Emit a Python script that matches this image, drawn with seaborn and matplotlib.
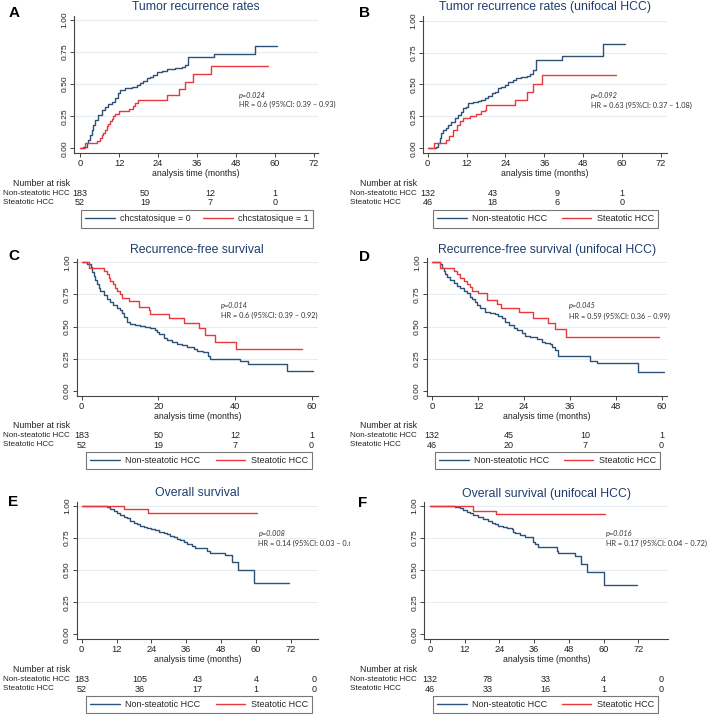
import matplotlib
matplotlib.use("Agg")
import numpy as np
import pandas as pd
import matplotlib.pyplot as plt
import seaborn as sns
from matplotlib.transforms import blended_transform_factory, Bbox, TransformedBbox

# ---- curve data (time in months, estimate) ----
a_blue_t = [0, 1.0, 2.05, 2.56, 3.08, 3.6, 4.1, 4.6, 5.6, 6.7, 7.7, 8.7, 9.7, 10.8, 11.8, 12.3, 13.8, 15.9,
            17.4, 18.5, 19.5, 20.5, 21.5, 22.6, 23.6, 25.1, 26.7, 29.2, 31.3, 32.3, 33.3, 41.3, 53.8, 60.7]
a_blue_s = [0, 0.013, 0.039, 0.065, 0.104, 0.143, 0.182, 0.221, 0.26, 0.30, 0.325, 0.343, 0.364, 0.39, 0.43,
            0.455, 0.473, 0.48, 0.494, 0.506, 0.525, 0.545, 0.558, 0.571, 0.592, 0.603, 0.616, 0.629, 0.636,
            0.649, 0.709, 0.732, 0.80, 0.80]
a_red_t = [0, 1.6, 5.3, 6.0, 6.7, 7.2, 7.7, 8.2, 8.7, 9.2, 9.7, 10.3, 10.8, 12.0, 15.0, 16.4, 17.0, 17.9,
           26.7, 30.5, 32.3, 34.9, 40.3, 57.7]
a_red_s = [0, 0.039, 0.06, 0.08, 0.10, 0.12, 0.14, 0.17, 0.19, 0.21, 0.23, 0.25, 0.27, 0.29, 0.31, 0.33,
           0.35, 0.38, 0.415, 0.46, 0.52, 0.58, 0.64, 0.64]

b_blue_t = [0, 0.6, 1.6, 2.5, 3.2, 3.7, 4.2, 4.7, 5.8, 6.3, 7.3, 8.3, 9.4, 10.4, 10.9, 11.9, 12.4, 14.0, 15.5,
            16.6, 17.6, 18.6, 19.7, 20.7, 21.7, 22.7, 23.8, 24.8, 26.3, 27.4, 28.9, 30.5, 31.5, 32.5, 33.5,
            41.6, 54.1, 61.0]
b_blue_s = [0, 0, 0.005, 0.013, 0.039, 0.078, 0.117, 0.144, 0.157, 0.183, 0.209, 0.235, 0.261, 0.287, 0.313,
            0.326, 0.352, 0.36, 0.37, 0.379, 0.392, 0.413, 0.431, 0.444, 0.47, 0.483, 0.496, 0.522, 0.535,
            0.548, 0.561, 0.569, 0.58, 0.614, 0.692, 0.726, 0.817, 0.817]
b_red_t = [0, 1.8, 5.6, 6.5, 7.8, 9.0, 10.0, 11.0, 13.0, 15.0, 16.5, 17.6, 18.1, 26.9, 30.7, 32.5, 35.3, 58.0]
b_red_s = [0, 0.044, 0.065, 0.10, 0.14, 0.18, 0.21, 0.235, 0.25, 0.265, 0.29, 0.30, 0.34, 0.38, 0.44, 0.50,
           0.574, 0.574]

c_blue_t = [0, 0.96, 1.4, 2.3, 2.7, 3.1, 3.6, 4.0, 4.4, 4.9, 5.7, 6.6, 7.5, 8.3, 9.2, 10.1, 10.5, 11.0, 11.8,
            12.7, 14.0, 15.3, 16.6, 17.9, 19.2, 19.7, 20.1, 21.4, 22.3, 23.6, 24.9, 26.2, 27.5, 29.2, 30.1,
            31.8, 33.1, 33.6, 41.4, 43.3, 53.7, 60.5]
c_blue_s = [1, 1, 0.984, 0.966, 0.927, 0.896, 0.862, 0.829, 0.803, 0.777, 0.745, 0.714, 0.688, 0.668, 0.642,
            0.629, 0.603, 0.577, 0.538, 0.519, 0.512, 0.506, 0.499, 0.491, 0.473, 0.455, 0.439, 0.413, 0.395,
            0.377, 0.361, 0.356, 0.343, 0.325, 0.309, 0.299, 0.273, 0.247, 0.231, 0.205, 0.153, 0.153]
c_red_t = [0, 1.8, 5.7, 6.6, 7.0, 7.5, 8.3, 8.8, 9.2, 10.1, 10.5, 12.3, 14.9, 17.5, 17.9, 22.7, 26.6, 30.5,
           32.3, 34.9, 40.3, 57.5]
c_red_s = [1, 0.958, 0.932, 0.906, 0.88, 0.855, 0.829, 0.803, 0.777, 0.75, 0.725, 0.699, 0.655, 0.629, 0.595,
           0.564, 0.525, 0.491, 0.434, 0.377, 0.325, 0.325]

d_blue_t = [0, 1.2, 2.1, 2.5, 3.0, 3.4, 3.8, 4.7, 5.6, 6.5, 7.3, 8.2, 9.1, 9.9, 10.4, 11.2, 11.7, 12.6, 13.9,
            15.2, 16.5, 17.3, 18.2, 19.1, 20.0, 21.3, 22.1, 23.5, 24.3, 25.6, 27.4, 28.7, 29.6, 30.9, 31.3,
            32.2, 33.0, 41.3, 43.2, 53.7, 60.5]
d_blue_s = [1, 1, 0.984, 0.958, 0.932, 0.906, 0.888, 0.862, 0.836, 0.818, 0.803, 0.777, 0.758, 0.732, 0.714,
            0.694, 0.668, 0.642, 0.616, 0.603, 0.595, 0.584, 0.564, 0.538, 0.512, 0.491, 0.473, 0.447, 0.429,
            0.421, 0.403, 0.377, 0.369, 0.361, 0.343, 0.317, 0.273, 0.231, 0.213, 0.143, 0.143]
d_red_t = [0, 2.0, 5.6, 6.5, 7.3, 8.2, 9.0, 9.9, 10.5, 12.0, 14.3, 17.0, 18.0, 22.8, 26.4, 30.3, 32.2, 35.0, 59.4]
d_red_s = [1, 0.955, 0.93, 0.905, 0.88, 0.855, 0.83, 0.805, 0.78, 0.76, 0.71, 0.675, 0.645, 0.61, 0.57, 0.525,
           0.48, 0.415, 0.415]

e_blue_t = [0, 8.2, 8.7, 9.9, 11.0, 12.2, 13.3, 14.5, 15.6, 16.8, 17.9, 19.1, 20.2, 21.4, 22.5, 23.7, 25.4,
            26.5, 28.2, 29.4, 30.5, 31.7, 32.8, 34.0, 35.1, 36.3, 38.0, 39.1, 43.2, 44.3, 49.5, 51.9, 53.8,
            59.5, 71.5]
e_blue_s = [1, 1, 0.99, 0.979, 0.964, 0.948, 0.93, 0.917, 0.904, 0.886, 0.87, 0.86, 0.844, 0.834, 0.826, 0.818,
            0.813, 0.80, 0.792, 0.779, 0.766, 0.756, 0.745, 0.735, 0.722, 0.704, 0.688, 0.670, 0.652, 0.636,
            0.618, 0.565, 0.501, 0.403, 0.403]
e_red_t = [0, 14.5, 22.8, 60.4]
e_red_s = [1, 0.977, 0.943, 0.943]

f_blue_t = [0, 8.6, 9.2, 10.4, 11.5, 12.7, 13.8, 15.0, 16.7, 18.4, 20.2, 21.3, 22.5, 23.6, 25.3, 26.5, 28.2,
            28.8, 29.4, 31.1, 32.8, 35.1, 35.7, 36.3, 37.4, 43.8, 44.4, 50.1, 52.2, 54.1, 60.1, 71.7]
f_blue_s = [1, 0.995, 0.99, 0.982, 0.969, 0.956, 0.943, 0.93, 0.912, 0.896, 0.886, 0.87, 0.86, 0.844, 0.834,
            0.826, 0.818, 0.80, 0.787, 0.774, 0.761, 0.756, 0.722, 0.704, 0.683, 0.652, 0.636, 0.61, 0.545,
            0.488, 0.384, 0.384]
f_red_t = [0, 14.7, 22.8, 60.5]
f_red_s = [1, 0.964, 0.935, 0.935]

# ---- number at risk ----
risk_t4 = [0, 20, 40, 60]
risk_t5 = [0, 20, 40, 60, 80]
a_risk_non = [183, 50, 12, 1]
a_risk_st = [52, 19, 7, 0]
b_risk_non = [132, 43, 9, 1]
b_risk_st = [46, 18, 6, 0]
c_risk_non = [183, 50, 12, 1]
c_risk_st = [52, 19, 7, 0]
d_risk_non = [132, 45, 10, 1]
d_risk_st = [46, 20, 7, 0]
e_risk_non = [183, 105, 43, 4, 0]
e_risk_st = [52, 36, 17, 1, 0]
f_risk_non = [132, 78, 33, 4, 0]
f_risk_st = [46, 33, 16, 1, 0]

titles = ["Tumor recurrence rates", "Tumor recurrence rates (unifocal HCC)",
          "Recurrence-free survival", "Recurrence-free survival (unifocal HCC)",
          "Overall survival", "Overall survival (unifocal HCC)"]
letters = ["A", "B", "C", "D", "E", "F"]
p_texts = ["p=0.024", "p=0.092", "p=0.014", "p=0.045", "p=0.008", "p=0.016"]
hr_texts = ["HR = 0.6 (95%CI: 0.39 \u2013 0.93)", "HR = 0.63 (95%CI: 0.37 \u2013 1.08)",
            "HR = 0.6 (95%CI: 0.39 \u2013 0.92)", "HR = 0.59 (95%CI: 0.36 \u2013 0.99)",
            "HR = 0.14 (95%CI: 0.03 \u2013 0.6", "HR = 0.17 (95%CI: 0.04 \u2013 0.72)"]
legend_a = ["chcstatosique = 0", "chcstatosique = 1"]
legend_std = ["Non-steatotic HCC", "Steatotic HCC"]
row_labels = ["Non-steatotic HCC", "Steatotic HCC"]
yticks = [0, 0.25, 0.5, 0.75, 1.0]
ytick_labels = ["0.00", "0.25", "0.50", "0.75", "1.00"]

BLUE = "#2f5178"
RED = "#e8383d"
TITLE_C = "#1e3d6e"
GRID = "#e6edf2"

sns.set_theme(style="white")
plt.rcParams['font.family'] = ['Liberation Sans', 'DejaVu Sans']

W, H = 709, 716
fig = plt.figure(figsize=(W / 100, H / 100), dpi=100)
fig.patch.set_facecolor("white")


def fx(px):
    return px / W


def fy(py):
    return 1 - py / H


# layout in pixels: axes box, data origin, scale, text rows, legend box
panels = [
    dict(data=(a_blue_t, a_blue_s, a_red_t, a_red_s), risk=(risk_t4, a_risk_non, a_risk_st), leg=legend_a,
         box=(74, 16, 318, 153), x0=80, ppm=3.25, y0=148.3, ppu=128.3, xticks=range(0, 73, 12),
         title_y=7.3, letter=(9, 13.3), lab_x=3, rows=(184, 193.3, 202.7), xlab_y=173.5,
         legbox=(81, 211, 313, 227), ptxt=(49, 0.41, 0.345)),
    dict(data=(b_blue_t, b_blue_s, b_red_t, b_red_s), risk=(risk_t4, b_risk_non, b_risk_st), leg=legend_std,
         box=(423, 16, 667, 153), x0=427.7, ppm=3.24, y0=148.3, ppu=127.7, xticks=range(0, 73, 12),
         title_y=7.3, letter=(359, 13.3), lab_x=350, rows=(184, 193.3, 202.7), xlab_y=173.5,
         legbox=(433, 211, 658, 227), ptxt=(50.4, 0.41, 0.335)),
    dict(data=(c_blue_t, c_blue_s, c_red_t, c_red_s), risk=(risk_t4, c_risk_non, c_risk_st), leg=legend_std,
         box=(76.7, 259, 318, 395.7), x0=81.7, ppm=3.83, y0=390.7, ppu=128.4, xticks=[0, 20, 40, 60],
         title_y=250, letter=(8, 255.5), lab_x=3, rows=(426, 435.7, 445), xlab_y=416,
         legbox=(86, 453.3, 312, 468.3), ptxt=(36.3, 0.662, 0.584)),
    dict(data=(d_blue_t, d_blue_s, d_red_t, d_red_s), risk=(risk_t4, d_risk_non, d_risk_st), leg=legend_std,
         box=(426.7, 258, 666.7, 395.7), x0=432.3, ppm=3.822, y0=390.7, ppu=128.4, xticks=range(0, 61, 12),
         title_y=250, letter=(359, 256.5), lab_x=350, rows=(426, 435.7, 445), xlab_y=416,
         legbox=(435, 453.3, 660, 468.3), ptxt=(35.8, 0.66, 0.582)),
    dict(data=(e_blue_t, e_blue_s, e_red_t, e_red_s), risk=(risk_t5, e_risk_non, e_risk_st), leg=legend_std,
         box=(76.7, 501.7, 318, 639.3), x0=81.7, ppm=2.903, y0=634.3, ppu=128.3, xticks=range(0, 73, 12),
         title_y=493.3, letter=(8, 502.5), lab_x=3, rows=(669.3, 679.3, 689), xlab_y=660,
         legbox=(86, 696.7, 312, 711.7), ptxt=(60.9, 0.787, 0.709)),
    dict(data=(f_blue_t, f_blue_s, f_red_t, f_red_s), risk=(risk_t5, f_risk_non, f_risk_st), leg=legend_std,
         box=(424.3, 501.7, 668.3, 639.3), x0=430, ppm=2.894, y0=634.3, ppu=128.3, xticks=range(0, 73, 12),
         title_y=494, letter=(358, 503), lab_x=350, rows=(669.3, 679.3, 689), xlab_y=660,
         legbox=(433, 696.7, 658, 711.7), ptxt=(60.7, 0.787, 0.709)),
]

for i, p in enumerate(panels):
    l, t, r, b = p["box"]
    ax = fig.add_axes([fx(l), fy(b), (r - l) / W, (b - t) / H])
    bt, bs, rt, rs = p["data"]
    lab0, lab1 = p["leg"]
    df = pd.concat([pd.DataFrame({"time": bt, "surv": bs, "group": lab0}),
                    pd.DataFrame({"time": rt, "surv": rs, "group": lab1})], ignore_index=True)
    sns.lineplot(data=df, x="time", y="surv", hue="group", hue_order=[lab0, lab1],
                 palette=[BLUE, RED], drawstyle="steps-post", estimator=None, sort=False,
                 linewidth=1.0, ax=ax)

    ax.set_xlim((l - p["x0"]) / p["ppm"], (r - p["x0"]) / p["ppm"])
    ax.set_ylim((p["y0"] - b) / p["ppu"], (p["y0"] - t) / p["ppu"])
    ax.set_xticks(list(p["xticks"]))
    ax.set_yticks(yticks)
    ax.set_yticklabels(ytick_labels)
    ax.set_xlabel("")
    ax.set_ylabel("")
    ax.grid(axis="y", color=GRID, linewidth=0.8)
    ax.get_ygridlines()[0].set_visible(False)
    ax.set_axisbelow(True)
    sns.despine(ax=ax)
    for s in ["left", "bottom"]:
        ax.spines[s].set_color("#444444")
        ax.spines[s].set_linewidth(0.8)
    ax.tick_params(axis="both", direction="out", length=3, width=0.7, color="#444444",
                   bottom=True, left=True, pad=1.2)
    ax.tick_params(axis="x", labelsize=6.7, labelcolor="#222222")
    ax.tick_params(axis="y", labelsize=6.1, labelcolor="#222222", labelrotation=90)
    for lab in ax.get_yticklabels():
        lab.set_va("center")

    # title, letter, axis label
    cx = (l + r) / 2
    fig.text(fx(cx), fy(p["title_y"]), titles[i], ha="center", va="center", fontsize=8.8, color=TITLE_C)
    fig.text(fx(p["letter"][0]), fy(p["letter"][1]), letters[i], ha="left", va="center",
             fontsize=11, fontweight="bold", color="black")
    fig.text(fx(cx), fy(p["xlab_y"]), "analysis time (months)", ha="center", va="center",
             fontsize=6.3, color="#222222")

    # p-value / HR annotation
    px_, py1, py2 = p["ptxt"]
    ax.text(px_, py1, p_texts[i], ha="left", va="center", fontsize=5.3, style="italic",
            family=["Lato", "DejaVu Sans"], color="#333333")
    hr = ax.text(px_, py2, hr_texts[i], ha="left", va="center", fontsize=5.3,
                 family=["Lato", "DejaVu Sans"], color="#333333", clip_on=False)
    if i == 4:
        clip = TransformedBbox(Bbox([[0, 0], [350 / W, 1]]), fig.transFigure)
        hr.set_clip_box(clip)
        hr.set_clip_on(True)

    # number at risk table
    nar_y, row1_y, row2_y = p["rows"]
    fig.text(fx(p["lab_x"] + 67), fy(nar_y), "Number at risk", ha="right", va="center",
             fontsize=6.3, color="#222222")
    fig.text(fx(p["lab_x"]), fy(row1_y), row_labels[0], ha="left", va="center", fontsize=5.8, color="#222222")
    fig.text(fx(p["lab_x"]), fy(row2_y), row_labels[1], ha="left", va="center", fontsize=5.8, color="#222222")
    trans = blended_transform_factory(ax.transData, fig.transFigure)
    rtimes, rnon, rst = p["risk"]
    for tt, n1, n2 in zip(rtimes, rnon, rst):
        ax.text(tt, fy(row1_y), str(n1), transform=trans, ha="center", va="center", fontsize=6.5,
                color="#222222", clip_on=False)
        ax.text(tt, fy(row2_y), str(n2), transform=trans, ha="center", va="center", fontsize=6.5,
                color="#222222", clip_on=False)

    # legend box below
    lx0, ly0, lx1, ly1 = p["legbox"]
    sns.move_legend(ax, "center", bbox_to_anchor=(fx(lx0), fy(ly1), (lx1 - lx0) / W, (ly1 - ly0) / H),
                    bbox_transform=fig.transFigure, mode="expand", ncol=2, title=None, frameon=True,
                    fontsize=6.5, handlelength=3.3, borderpad=0.45, handletextpad=0.6,
                    borderaxespad=0, fancybox=False, framealpha=1, edgecolor="#777777")
    leg = ax.get_legend()
    leg.get_frame().set_linewidth(0.8)
    for h in leg.get_lines():
        h.set_linewidth(1.0)

fig.savefig("out.png", dpi=100, facecolor="white")
